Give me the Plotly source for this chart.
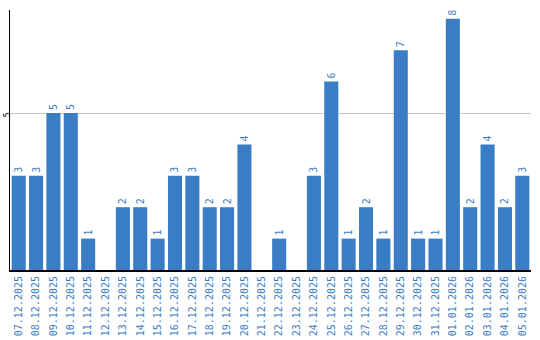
import plotly.graph_objects as go

dates = ["07.12.2025", "08.12.2025", "09.12.2025", "10.12.2025", "11.12.2025",
         "12.12.2025", "13.12.2025", "14.12.2025", "15.12.2025", "16.12.2025",
         "17.12.2025", "18.12.2025", "19.12.2025", "20.12.2025", "21.12.2025",
         "22.12.2025", "23.12.2025", "24.12.2025", "25.12.2025", "26.12.2025",
         "27.12.2025", "28.12.2025", "29.12.2025", "30.12.2025", "31.12.2025",
         "01.01.2026", "02.01.2026", "03.01.2026", "04.01.2026", "05.01.2026"]
counts = [3, 3, 5, 5, 1, 0, 2, 2, 1, 3, 3, 2, 2, 4, 0, 1, 0, 3, 6, 1,
          2, 1, 7, 1, 1, 8, 2, 4, 2, 3]
labels = [str(v) if v > 0 else "" for v in counts]
ytick_vals = [5]
ytick_text = ["5"]

blue = "#3b7dc4"
font = "DejaVu Sans Mono"

fig = go.Figure(go.Bar(
    x=dates, y=counts, text=labels, textposition="outside", textangle=-90,
    cliponaxis=False,
    textfont=dict(family=font, size=10, color=blue),
    marker=dict(color=blue, line=dict(width=0)),
))

fig.update_layout(
    width=540, height=340,
    margin=dict(l=10, r=9, t=10, b=70),
    paper_bgcolor="white", plot_bgcolor="white",
    bargap=0.19, showlegend=False,
    font=dict(family=font, size=10),
    uniformtext=dict(minsize=10, mode="show"),
)
fig.update_xaxes(
    type="category", tickangle=-90, showgrid=False, automargin=False,
    tickfont=dict(family=font, size=10, color=blue),
    showline=True, linecolor="black", linewidth=2, ticks="",
)
fig.update_yaxes(
    range=[0, 8.28], tickvals=ytick_vals, ticktext=ytick_text, tickangle=-90,
    automargin=False, ticklabelstandoff=-4, ticklabelshift=3,
    tickfont=dict(family=font, size=8, color="black"),
    showgrid=True, gridcolor="#c8c8c8", gridwidth=1,
    showline=True, linecolor="black", linewidth=1, zeroline=False, ticks="",
)

fig.write_html("out.html")
